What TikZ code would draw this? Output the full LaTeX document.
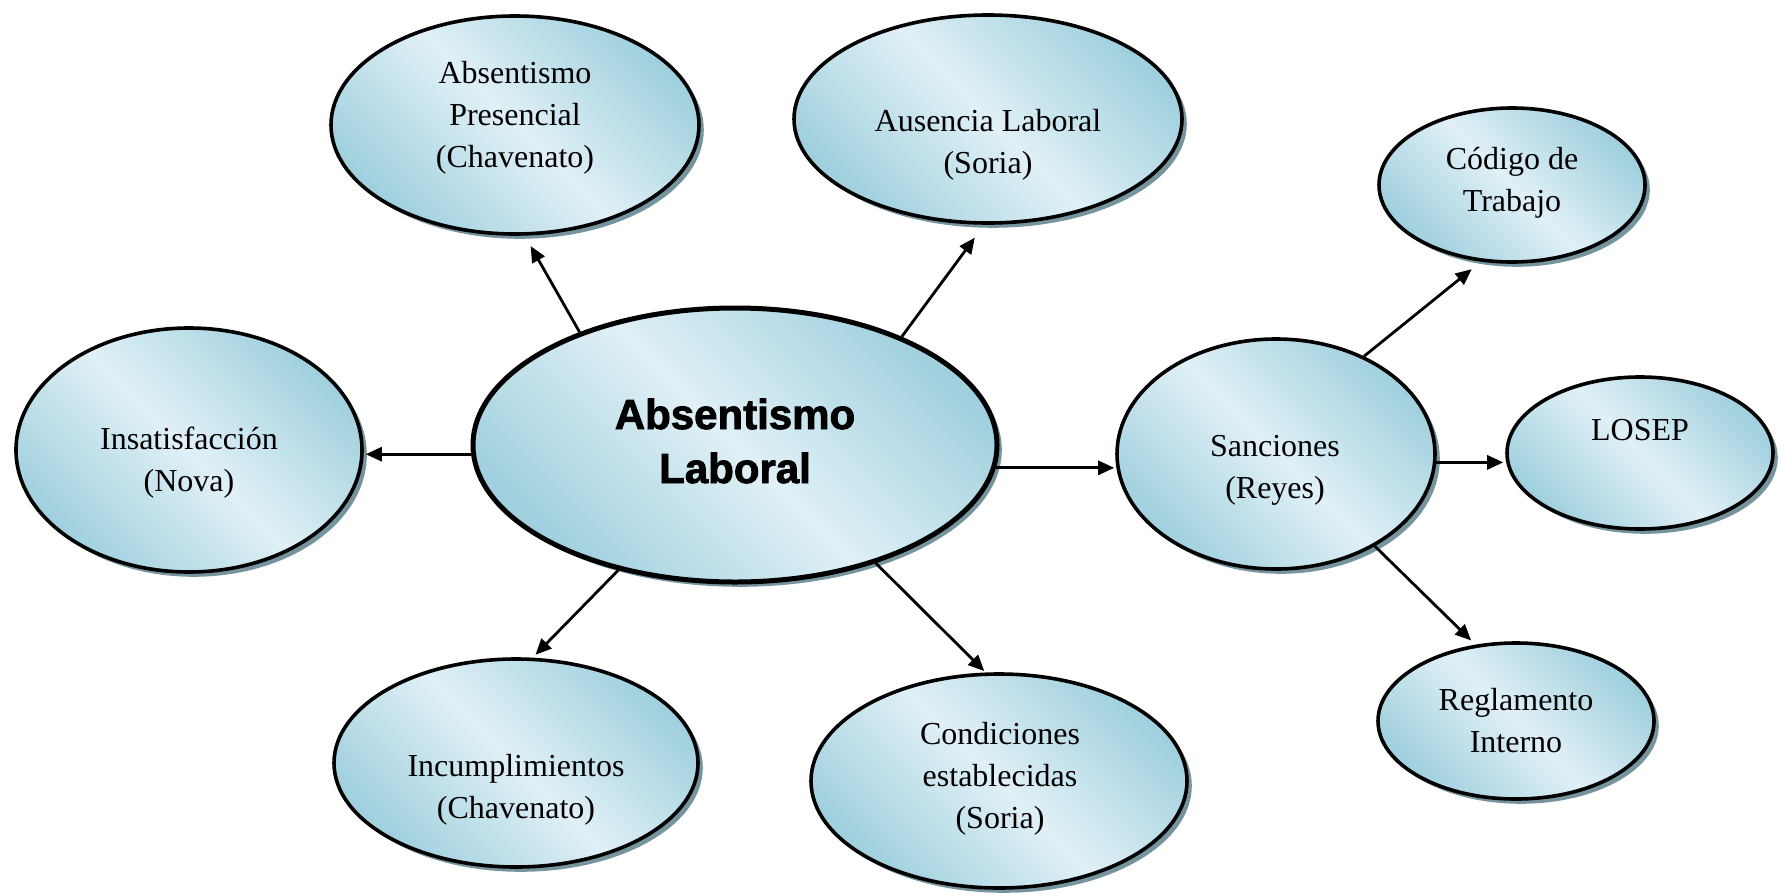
\documentclass[tikz,border=0pt]{standalone}
\usepackage{fontspec}
\setmainfont{Liberation Serif}
\newfontfamily\centerfont[FakeBold=2]{Liberation Sans Bold}
\usetikzlibrary{shapes.geometric,shadows,arrows.meta}
\definecolor{bdark}{RGB}{160,208,222}
\definecolor{blight}{RGB}{224,240,246}
\definecolor{shadowcol}{RGB}{118,148,158}
\tikzset{
  ell/.style={ellipse, draw=black, line width=1.8pt, inner sep=0pt,
    top color=bdark, bottom color=bdark, middle color=blight, shading angle=-45,
    drop shadow={shadow xshift=2.4pt, shadow yshift=-2.4pt, fill=shadowcol, opacity=1}},
  txt/.style={align=center, font=\fontsize{16}{21}\selectfont, inner sep=0pt},
  arr/.style={line width=1.4pt, -{Triangle[length=8pt,width=7pt]}}
}
\begin{document}
\begin{tikzpicture}[x=0.5pt,y=-0.5pt]
\useasboundingbox (0,0) rectangle (1781,894);
% ellipses
\node[ell, minimum width=184pt, minimum height=109pt] (pres) at (515,125) {};
\node[ell, minimum width=194pt, minimum height=104pt] (aus) at (988,119) {};
\node[ell, minimum width=173pt, minimum height=122pt] (insat) at (189,450) {};
\node[ell, line width=2.5pt, minimum width=262pt, minimum height=137pt] (cent) at (735,445) {};
\node[ell, minimum width=182pt, minimum height=104pt] (incum) at (516,763) {};
\node[ell, minimum width=188pt, minimum height=107pt] (cond) at (999,781) {};
\node[ell, minimum width=159pt, minimum height=115pt] (sanc) at (1276,454) {};
\node[ell, minimum width=133pt, minimum height=77pt] (cod) at (1512,185) {};
\node[ell, minimum width=133pt, minimum height=76pt] (losep) at (1640,453) {};
\node[ell, minimum width=138pt, minimum height=78pt] (regl) at (1516,721) {};
% texts
\node[txt] (presT) at (515,118) {Absentismo\\Presencial\\(Chavenato)};
\node[txt] (ausT) at (988,145) {Ausencia Laboral\\(Soria)};
\node[txt] (insatT) at (189,463) {Insatisfacción\\(Nova)};
\node[align=center, inner sep=0pt, font=\centerfont\fontsize{21}{27}\selectfont] (centT) at (735,441) {Absentismo\\Laboral};
\node[txt] (incumT) at (516,790) {Incumplimientos\\(Chavenato)};
\node[txt] (condT) at (1000,779) {Condiciones\\establecidas\\(Soria)};
\node[txt] (sancT) at (1275,470) {Sanciones\\(Reyes)};
\node[txt] (codT) at (1512,183) {Código de\\Trabajo};
\node[txt] (losepT) at (1640,430) {LOSEP};
\node[txt] (reglT) at (1516,721) {Reglamento\\Interno};
% connectors
\draw[arr, shorten >=6pt] (cent.144.3) -- (pres.275.2);
\draw[arr, shorten >=8pt] (cent.33) -- (aus.268);
\draw[arr, shorten >=1pt] (cent.182) -- (cent.182 -| insat.east);
\draw[arr, shorten >=2pt] (cent.227.6) -- (incum.81.6);
\draw[arr, shorten >=1pt] (cent.320.5) -- (cond.97.7);
\draw[arr, shorten >=0.5pt] (cent.355.5) -- (cent.355.5 -| sanc.west);
\draw[arr, shorten >=6pt] (sanc.48) -- (cod.248.3);
\draw[arr, shorten >=1pt] (sanc.357.5) -- (sanc.357.5 -| losep.west);
\draw[arr, shorten >=3pt] (sanc.317.6) -- (regl.118);
\end{tikzpicture}
\end{document}
